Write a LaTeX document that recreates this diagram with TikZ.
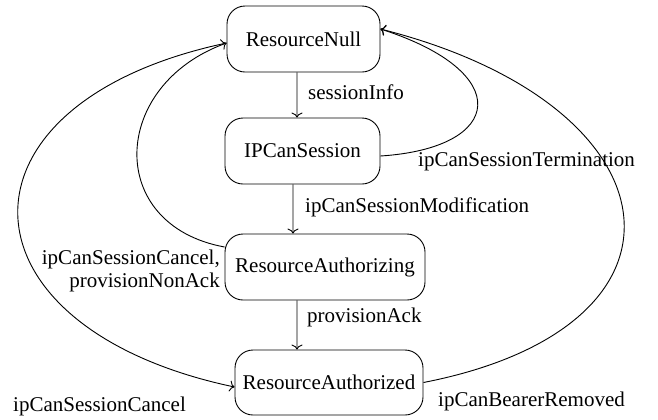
\documentclass[tikz,border=0pt]{standalone}
\usepackage{fontspec}
\setmainfont{Liberation Serif}
\usetikzlibrary{arrows.meta}
\begin{document}
\begin{tikzpicture}[x=1bp,y=-1bp,
  every node/.style={font=\fontsize{21bp}{23bp}\selectfont},
  state/.style={draw,line width=0.9bp,rounded corners=18bp,inner sep=0pt,minimum height=66bp},
  conn/.style={line width=0.9bp,-{To[length=5bp,width=11bp]}},
  lbl/.style={inner sep=0pt,anchor=base west}]
\useasboundingbox (0,0) rectangle (658,419);
\node[state,minimum width=153bp] (RN) at (303.5,39) {ResourceNull};
\node[state,minimum width=155bp] (IPC) at (302.5,151) {IPCanSession};
\node[state,minimum width=200bp] (RAing) at (325,267) {ResourceAuthorizing};
\node[state,minimum width=188bp,minimum height=65bp] (RAed) at (329,382.5) {ResourceAuthorized};
% straight transitions
\draw[conn] ([xshift=-6.5bp]RN.south) -- ([xshift=-5.5bp]IPC.north);
\draw[conn] ([xshift=-9.5bp]IPC.south) -- ([xshift=-32bp]RAing.north);
\draw[conn] ([xshift=-28bp]RAing.south) -- ([xshift=-32bp]RAed.north);
\node[lbl] (l1) at (308,99) {sessionInfo};
\node[lbl] (l2) at (305,212) {ipCanSessionModification};
\node[lbl] (l3) at (307,322) {provisionAck};
% curved transitions
\draw[conn] ([yshift=20bp]RAing.west) .. controls (105,225) and (110,85) .. ([yshift=-4bp]RN.west);
\draw[conn] ([yshift=-4bp]RN.west) .. controls (-57,103) and (-49,327) .. ([yshift=-4.5bp]RAed.west);
\draw[conn] ([yshift=-5bp]IPC.east) .. controls (505,148) and (515,72) .. ([yshift=10bp]RN.east);
\draw[conn] (RAed.east) .. controls (713,326) and (681,105) .. ([yshift=10bp]RN.east);
\node[inner sep=0pt,anchor=north east,align=right] (l4) at (220,249.7) {ipCanSessionCancel,\\provisionNonAck};
\node[lbl] (l5) at (418,166) {ipCanSessionTermination};
\node[lbl] (l6) at (13,411) {ipCanSessionCancel};
\node[lbl] (l7) at (438,406) {ipCanBearerRemoved};
\end{tikzpicture}
\end{document}
